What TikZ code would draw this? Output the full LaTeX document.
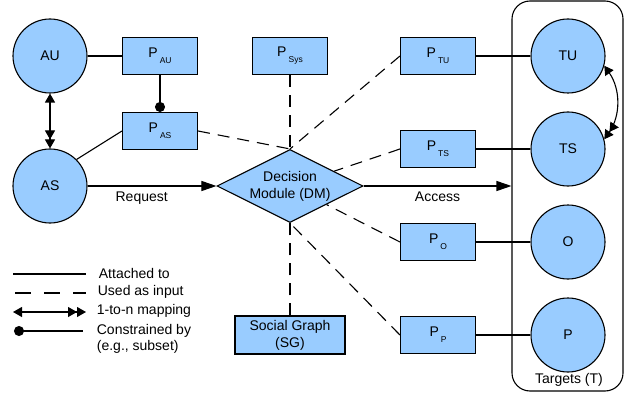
\documentclass[tikz,border=0pt]{standalone}
\usepackage{fontspec}
\setmainfont{Liberation Sans}
\usepackage{xcolor}
\usepackage{tikz}
\usetikzlibrary{arrows.meta,positioning,shapes.geometric}

\definecolor{nodeblue}{RGB}{153,204,255}

\newcommand{\pol}[1]{P\hspace{2pt}\raisebox{-6pt}{\fontsize{8.5}{9}\selectfont #1}}

\tikzset{
    party/.style={circle, draw, fill=nodeblue, minimum size=74pt, inner sep=0pt},
    policy/.style={rectangle, draw, fill=nodeblue, minimum width=75pt, minimum height=37pt, inner sep=0pt},
    dm/.style={diamond, draw, fill=nodeblue, minimum width=146pt, minimum height=73pt, inner sep=0pt},
    input/.style={dash pattern=on 12pt off 8pt},
    one/.tip={Triangle[length=9pt,width=10pt]},
    many/.tip={Triangle[length=9pt,width=10pt]Triangle[length=9pt,width=10pt]},
    flow/.tip={Triangle[length=15pt,width=10pt]},
    dot/.tip={Circle[length=10pt]},
}

\begin{document}
\begin{tikzpicture}[x=1pt, y=-1pt, line width=1.1pt, font=\fontsize{14}{17}\selectfont]
    \useasboundingbox (0,0) rectangle (629,393);

    % Targets frame
    \node[draw, rounded corners=18pt, minimum width=111pt, minimum height=390pt] (T) at (567.5,196) {};
    \node (Tlabel) at (569,380) {Targets (T)};

    % Subjects
    \node[party] (AU) at (50,56) {AU};
    \node[party] (AS) at (50,186) {AS};
    \node[policy] (PAU) at (160,56) {\pol{AU}};
    \node[policy] (PAS) at (160,131) {\pol{AS}};
    \node[policy] (PSys) at (290,56) {\pol{Sys}};
    \node[policy, minimum width=110pt, minimum height=38pt, align=center] (SG) at (290,335) {Social Graph\\(SG)};

    % Decision module
    \node[dm] (DM) at (290,186) {};
    \node[align=center] (DMlabel) at (DM) {Decision\\Module (DM)};

    % Targets and their policies
    \foreach \n/\y in {TU/56, TS/149, O/242, P/335} {
        \node[party] (\n) at (568,\y) {\n};
        \node[policy] (P\n) at (438,\y) {\pol{\n}};
        \draw (P\n) -- (\n);
    }

    % Attached / constrained
    \draw (AU) -- (PAU);
    \draw[-dot] (PAU) -- (PAS);
    \draw (AS.45) -- (PAS.west);
    \draw[one-many] (AU) -- (AS);
    \draw[one-many] (TU.-15) to[bend left=35] (TS.15);

    % Request and access
    \draw[-flow] (AS) -- (DM) node[pos=0.42, below=2pt] {Request};
    \draw[-flow] (DM) -- (DM -| T.west) node[midway, below=2pt] {Access};

    % Inputs of the decision
    \draw[input] (PAS.east) -- (DM.north);
    \draw[input] (PSys) -- (DM.north);
    \draw[input] (PTU.west) -- (DM.north);
    \draw[input] (PTS.west) -- (DM);
    \draw[input] (PO.west) -- (DM);
    \draw[input] (PP.west) -- (DM.south);
    \draw[input] (SG) -- (DM.south);

    % Legend
    \draw (13,274) -- (86,274);
    \node[anchor=west] (lgAttached) at (95,273) {Attached to};
    \draw[dash pattern=on 16pt off 13pt] (15,293) -- (86,293);
    \node[anchor=west] (lgInput) at (94,292) {Used as input};
    \draw[one-many] (13,312) -- (86,312);
    \node[anchor=west] (lgMapping) at (93,311) {1-to-n mapping};
    \draw[dot-] (14,331) -- (83,331);
    \node[anchor=west, align=left, font=\fontsize{14}{16}\selectfont] (lgConstrained) at (93,339) {Constrained by\\(e.g., subset)};
\end{tikzpicture}
\end{document}
